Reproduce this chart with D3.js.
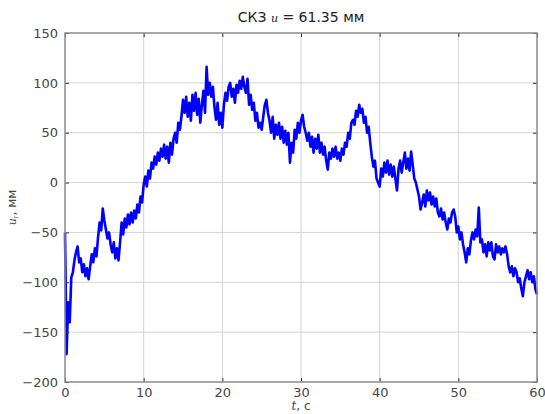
<!DOCTYPE html>
<html><head><meta charset="utf-8">
<script src="https://cdn.jsdelivr.net/npm/d3@7"></script>
<style>body{margin:0;background:#fff}svg{display:block}</style>
</head><body>
<svg id="c" width="545" height="414"></svg>
<script>
const xTicks = [0,10,20,30,40,50,60];
const yTicks = [-200,-150,-100,-50,0,50,100,150];
const dt = 0.2;
const uValues = [
-50,-172,-120,-140,-95,
-90,-78,-70,-64,-80,
-76,-90,-82,-94,-86,
-97,-84,-72,-80,-66,
-74,-55,-40,-48,-26,
-38,-47,-56,-50,-62,
-70,-60,-76,-66,-78,
-60,-40,-52,-36,-45,
-32,-42,-30,-40,-28,
-36,-22,-30,-14,-20,
-2,6,-4,12,4,
20,14,26,18,30,
22,34,26,38,24,
36,20,40,28,44,
50,40,60,53,66,
83,70,86,66,80,
62,88,72,90,68,
84,60,78,92,70,
116,88,100,86,96,
76,63,80,58,70,
55,78,90,82,96,
100,86,94,80,98,
90,102,94,106,96,
90,104,78,88,73,
80,62,70,55,60,
53,66,78,83,70,
62,50,66,44,58,
48,60,44,56,40,
52,38,50,20,40,
30,53,44,60,50,
62,68,56,50,42,
50,36,46,30,44,
34,48,30,40,28,
36,22,13,30,24,
34,26,36,24,30,
22,34,28,40,36,
50,44,60,63,58,
72,66,78,70,74,
60,66,50,56,40,
26,16,22,4,0,
-4,14,6,20,10,
22,8,18,6,16,
4,-8,14,22,10,
20,30,14,24,12,
31,18,4,0,-7,
-14,-27,-20,-12,-24,
-8,-18,-10,-22,-14,
-24,-16,-30,-34,-26,
-37,-30,-40,-47,-36,
-40,-30,-27,-34,-50,
-44,-57,-50,-62,-70,
-80,-66,-72,-58,-50,
-57,-47,-54,-25,-60,
-57,-70,-62,-74,-60,
-68,-60,-74,-77,-62,
-70,-64,-72,-66,-70,
-64,-72,-84,-90,-84,
-94,-86,-90,-100,-96,
-106,-114,-100,-94,-88,
-97,-90,-100,-94,-107,
-112
];
const titleText = "СКЗ ";
const titleVar = "u";
const titleRest = " = 61.35 мм";

const W=545,H=414, m={l:65,r:8,t:33,b:32};
const svg=d3.select("#c");
const x=d3.scaleLinear().domain([0,60]).range([m.l,W-m.r]);
const y=d3.scaleLinear().domain([-200,150]).range([H-m.b,m.t]);
const data=uValues.map((v,i)=>({t:i*dt,u:v}));

const g=svg.append("g");
g.selectAll(".gx").data(xTicks.slice(1,-1)).enter().append("line")
 .attr("x1",d=>x(d)).attr("x2",d=>x(d)).attr("y1",y(150)).attr("y2",y(-200))
 .attr("stroke","#d4d4d4").attr("stroke-width",1);
g.selectAll(".gy").data(yTicks.slice(1,-1)).enter().append("line")
 .attr("y1",d=>y(d)).attr("y2",d=>y(d)).attr("x1",x(0)).attr("x2",x(60))
 .attr("stroke","#d4d4d4").attr("stroke-width",1);

const line=d3.line().x(d=>x(d.t)).y(d=>y(d.u));
svg.append("path").datum(data).attr("d",line).attr("fill","none")
 .attr("stroke","#0000ff").attr("stroke-width",2.6).attr("stroke-linejoin","round");

const fmt=d3.format("d");
const ax=(axis,tr)=>{const a=svg.append("g").attr("transform",tr).call(axis);
 a.select(".domain").remove();
 a.selectAll(".tick line").attr("stroke","#333");
 a.selectAll("text").attr("fill","#444").style("font-family","DejaVu Sans").style("font-size","13px");
 return a;};
ax(d3.axisBottom(x).tickValues(xTicks).tickFormat(fmt).tickSizeInner(-4).tickPadding(6),`translate(0,${H-m.b})`);
ax(d3.axisLeft(y).tickValues(yTicks).tickFormat(fmt).tickSizeInner(-4).tickPadding(7),`translate(${m.l},0)`);
const axTop=ax(d3.axisTop(x).tickValues(xTicks).tickSizeInner(-4),`translate(0,${m.t})`); axTop.selectAll("text").remove();
const axRight=ax(d3.axisRight(y).tickValues(yTicks).tickSizeInner(-4),`translate(${W-m.r},0)`); axRight.selectAll("text").remove();

svg.append("rect").attr("x",x(0)).attr("y",y(150)).attr("width",x(60)-x(0)).attr("height",y(-200)-y(150))
 .attr("fill","none").attr("stroke","#8c8c8c").attr("stroke-width",1.5);

const tt=svg.append("text").attr("x",(x(0)+x(60))/2).attr("y",22).attr("text-anchor","middle")
 .style("font-family","DejaVu Sans").style("font-size","14px").attr("fill","#222");
tt.append("tspan").text(titleText);
tt.append("tspan").text(titleVar).style("font-family","DejaVu Serif").style("font-style","italic").style("font-size","11px");
tt.append("tspan").text(titleRest);

const xl=svg.append("text").attr("x",(x(0)+x(60))/2).attr("y",410).attr("text-anchor","middle")
 .style("font-family","DejaVu Sans").style("font-size","12px").attr("fill","#444");
xl.append("tspan").text("t").style("font-family","DejaVu Serif").style("font-style","italic").style("font-size","12px");
xl.append("tspan").text(", с");

const yl=svg.append("text").attr("transform",`translate(16,${(y(150)+y(-200))/2}) rotate(-90)`).attr("text-anchor","middle")
 .style("font-family","DejaVu Sans").style("font-size","12px").attr("fill","#444");
yl.append("tspan").text("u").style("font-family","DejaVu Serif").style("font-style","italic").style("font-size","11px");
yl.append("tspan").text("r").attr("dy",2).style("font-size","7px");
yl.append("tspan").text(", мм").attr("dy",-2);
</script>
</body></html>
